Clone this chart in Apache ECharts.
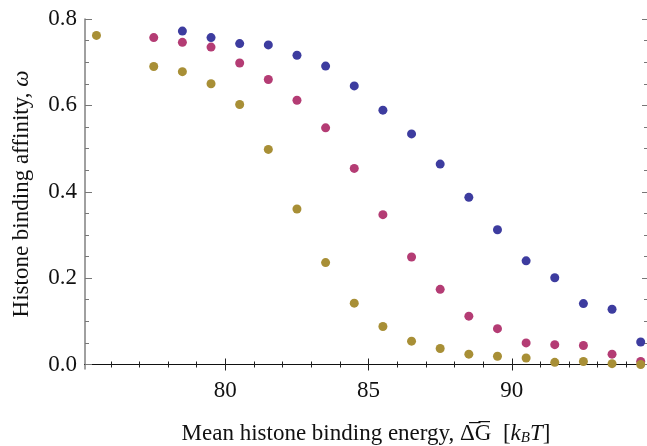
<!DOCTYPE html>
<html>
<head>
<meta charset="utf-8">
<script src="https://cdn.jsdelivr.net/npm/echarts@6/dist/echarts.min.js"></script>
<style>
  html, body { margin: 0; padding: 0; background: #fff; }
  #chart { width: 647px; height: 446px; }
</style>
</head>
<body>
<div id="chart"></div>
<script>
// x positions of the points (mean binding energy, kBT)
var xBlue    = [78.5, 79.5, 80.5, 81.5, 82.5, 83.5, 84.5, 85.5, 86.5, 87.5, 88.5, 89.5, 90.5, 91.5, 92.5, 93.5, 94.5];
var xMagenta = [77.5, 78.5, 79.5, 80.5, 81.5, 82.5, 83.5, 84.5, 85.5, 86.5, 87.5, 88.5, 89.5, 90.5, 91.5, 92.5, 93.5, 94.5];
var xOlive   = [75.5, 77.5, 78.5, 79.5, 80.5, 81.5, 82.5, 83.5, 84.5, 85.5, 86.5, 87.5, 88.5, 89.5, 90.5, 91.5, 92.5, 93.5, 94.5];

// histone binding affinity
var blue    = [0.772, 0.757, 0.743, 0.740, 0.716, 0.691, 0.645, 0.589, 0.534, 0.464, 0.387, 0.312, 0.240, 0.201, 0.141, 0.128, 0.052];
var magenta = [0.757, 0.746, 0.735, 0.698, 0.660, 0.612, 0.548, 0.454, 0.347, 0.249, 0.174, 0.112, 0.083, 0.050, 0.046, 0.044, 0.024, 0.007];
var olive   = [0.762, 0.690, 0.678, 0.650, 0.602, 0.498, 0.360, 0.236, 0.142, 0.088, 0.054, 0.037, 0.024, 0.019, 0.015, 0.005, 0.007, 0.002, 0.000];

// ticks
var xMajor = [80, 85, 90];
var xMinor = [76, 77, 78, 79, 81, 82, 83, 84, 86, 87, 88, 89, 91, 92, 93, 94];
var yMajor = [0, 0.2, 0.4, 0.6, 0.8];
var yMinor = [0.05, 0.1, 0.15, 0.25, 0.3, 0.35, 0.45, 0.5, 0.55, 0.65, 0.7, 0.75];

var X_MIN = 75.1, X_MAX = 94.72;
var Y_MIN = -0.0104, Y_MAX = 0.8;
var FONT = '"Liberation Serif", "DejaVu Serif", serif';

function pairs(xs, ys) {
    var out = [];
    for (var i = 0; i < xs.length; i++) {
        out.push([xs[i], ys[i]]);
    }
    return out;
}

function xAx(pos, ticks, len, opts) {
    var a = {
        type: 'value',
        position: pos,
        min: X_MIN,
        max: X_MAX,
        splitLine: { show: false },
        axisLine: { show: false },
        axisTick: { show: true, inside: true, length: len, customValues: ticks,
                    lineStyle: { color: '#222', width: 1 } },
        axisLabel: { show: false }
    };
    return Object.assign(a, opts || {});
}

function yAx(pos, ticks, len, opts) {
    var a = {
        type: 'value',
        position: pos,
        min: Y_MIN,
        max: Y_MAX,
        splitLine: { show: false },
        axisLine: { show: false },
        axisTick: { show: true, inside: true, length: len, customValues: ticks,
                    lineStyle: { color: '#777', width: 1 } },
        axisLabel: { show: false }
    };
    return Object.assign(a, opts || {});
}

var chart = echarts.init(document.getElementById('chart'));

var option = {
    backgroundColor: '#fff',
    animation: false,
    grid: { left: 85, right: 0, top: 19, bottom: 77, outerBoundsMode: 'none', containLabel: false },
    xAxis: [
        xAx('bottom', xMajor, 6, {
            axisLine: { show: true, lineStyle: { color: '#111', width: 1.2 } },
            axisLabel: {
                show: true, customValues: xMajor, margin: 10,
                fontFamily: FONT, fontSize: 23, color: '#111'
            },
            name: '{t|Mean histone binding energy, }{t|\u0394\u0305G\u0305}{t|  [}{i|k}{s|B}{i|T}{t|]}',
            nameLocation: 'middle',
            nameGap: 53,
            nameTextStyle: {
                rich: {
                    t: { fontFamily: FONT, fontSize: 23, color: '#111' },
                    i: { fontFamily: FONT, fontSize: 23, fontStyle: 'italic', color: '#111' },
                    s: { fontFamily: FONT, fontSize: 15, fontStyle: 'italic', color: '#111',
                         verticalAlign: 'bottom', padding: [9, 0, 0, 0] }
                }
            }
        }),
        xAx('bottom', xMinor, 3),
        xAx('top', xMajor, 6, {
            axisLine: { show: true, lineStyle: { color: '#111', width: 1.2 } }
        }),
        xAx('top', xMinor, 3)
    ],
    yAxis: [
        yAx('left', yMajor, 7, {
            axisLine: { show: true, lineStyle: { color: '#808080', width: 1.5 } },
            axisLabel: {
                show: true, customValues: yMajor, margin: 8,
                fontFamily: FONT, fontSize: 23, color: '#111',
                formatter: function (v) { return v.toFixed(1); }
            },
            name: '{t|Histone binding affinity, }{i|\u03c9}',
            nameLocation: 'middle',
            nameRotate: 90,
            nameGap: 52,
            nameTextStyle: {
                rich: {
                    t: { fontFamily: FONT, fontSize: 23, color: '#111' },
                    i: { fontFamily: FONT, fontSize: 23, fontStyle: 'italic', color: '#111' }
                }
            }
        }),
        yAx('left', yMinor, 4),
        yAx('right', yMajor, 5),
        yAx('right', yMinor, 3)
    ],
    series: [
        {
            name: 'blue',
            type: 'scatter',
            symbolSize: 9,
            itemStyle: { color: '#3d3c9f', opacity: 1 },
            data: pairs(xBlue, blue)
        },
        {
            name: 'magenta',
            type: 'scatter',
            symbolSize: 9,
            itemStyle: { color: '#b43c74', opacity: 1 },
            data: pairs(xMagenta, magenta)
        },
        {
            name: 'olive',
            type: 'scatter',
            symbolSize: 9,
            itemStyle: { color: '#a88f36', opacity: 1 },
            data: pairs(xOlive, olive)
        }
    ]
};

chart.setOption(option);
</script>
</body>
</html>
